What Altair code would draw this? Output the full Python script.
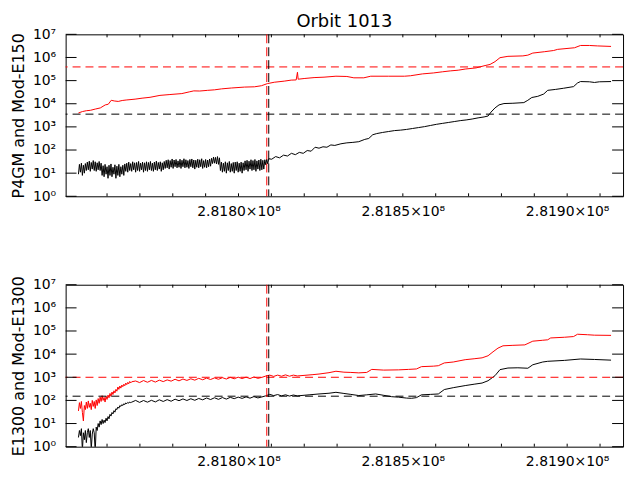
import altair as alt
import pandas as pd

# time origin (s); all times below are offsets from it
T0 = 281800000

# sample times of the densely sampled (noisy) early part
NOISE_T = [
    -48700, -48400, -48100, -47800, -47500, -47200, -46900, -46600, -46300, -46000,
    -45700, -45400, -45100, -44800, -44500, -44200, -43900, -43600, -43300, -43000,
    -42700, -42400, -42100, -41800, -41500, -41200, -40900, -40600, -40300, -40000,
    -39700, -39400, -39100, -38800, -38500, -38200, -37900, -37600, -37300, -37000,
    -36700, -36400, -36100, -35800, -35500, -35200, -34900, -34600, -34300, -34000,
    -33700, -33400, -33100, -32800, -32500, -32200, -31900, -31600, -31300, -31000,
    -30700, -30400, -30100, -29800, -29500, -29200, -28900, -28600, -28300, -28000,
    -27700, -27400, -27100, -26800, -26500, -26200, -25900, -25600, -25300, -25000,
    -24700, -24400, -24100, -23800, -23500, -23200, -22900, -22600, -22300, -22000,
    -21700, -21400, -21100, -20800, -20500, -20200, -19900, -19600, -19300, -19000,
    -18700, -18400, -18100, -17800, -17500, -17200, -16900, -16600, -16300, -16000,
    -15700, -15400, -15100, -14800, -14500, -14200, -13900, -13600, -13300, -13000,
    -12700, -12400, -12100, -11800, -11500, -11200, -10900, -10600, -10300, -10000,
    -9700, -9400, -9100, -8800, -8500, -8200, -7900, -7600, -7300, -7000,
    -6700, -6400, -6100, -5800, -5500, -5200, -4900, -4600, -4300, -4000,
    -3700, -3400, -3100, -2800, -2500, -2200, -1900, -1600, -1300, -1000,
    -700, -400, -100, 200, 500, 800, 1100, 1400, 1700, 2000,
    2300, 2600, 2900, 3200, 3500, 3800, 4100, 4400, 4700, 5000,
    5300, 5600, 5900, 6200, 6500, 6800, 7100, 7400, 7700, 8000,
    8300, 8600, 8900, 9200,
]
MOD_T = [
    -31300, -30100, -28900, -27700, -26500, -25300, -24100, -22900, -21700, -20500,
    -19300, -18100, -16900, -15700, -14500, -13300, -12100, -10900, -9700, -8500,
    -7300, -6100, -4900, -3700, -2500, -1300, -100, 1100, 2300, 3500,
    4700, 5900, 7100, 8300, 9500, 10700, 11900, 13100, 14300, 15500,
    16700, 17900,
]

# ---- top panel: P4GM (black) and Mod-E150 (red)
TOP_BLACK_V1 = [
    9, 24, 11, 27, 8, 22, 10, 26, 13, 30,
    14, 33, 12, 29, 15, 35, 13, 31, 12, 28,
    14, 32, 13, 27, 8, 21, 7, 24, 9, 19,
    6, 22, 8, 25, 7, 18, 9, 23, 6, 20,
    8, 24, 7, 19, 9, 22, 8, 25, 12, 27,
    11, 30, 13, 26, 12, 31, 14, 28, 11, 29,
    13, 32, 12, 27, 14, 30, 11, 28, 13, 31,
    12, 29, 14, 32, 13, 27, 12, 30, 14, 33,
    13, 29, 15, 31, 12, 28, 14, 32, 16, 36,
    17, 38, 15, 35, 18, 41, 16, 37, 19, 39,
    17, 34, 18, 40, 16, 36, 19, 42, 17, 38,
    18, 35, 16, 39, 19, 41, 17, 37, 15, 36,
    18, 40, 17, 38, 19, 42, 16, 35, 18, 39,
    17, 37, 19, 41, 20, 44, 26, 50, 27, 48,
    25, 52, 24, 46, 13, 30, 11, 27, 12, 31,
    10, 28, 13, 32, 11, 26, 12, 29, 10, 30,
    13, 31, 11, 27, 12, 30, 10, 28, 13, 34,
    14, 36, 12, 33, 15, 38, 13, 35, 14, 39,
    12, 34, 15, 37, 13, 40, 14, 36, 15, 38,
    23, 40, 25, 42,
]
TOP_BLACK_T2 = [10100, 11300, 12500, 13700, 14900, 16100, 17300, 18500, 19700,
                20900, 22100, 23300, 24500, 25700, 26900, 28100, 29300]
TOP_BLACK_V2 = [40, 52, 46, 60, 55, 72, 63, 79, 72, 95, 89, 132, 120, 138, 132, 166, 158]
TOP_BLACK_T3 = [31160, 32970, 34790, 36600, 38420, 39630, 40840, 42050, 43860, 45680,
                47490, 49310, 51120, 52940, 54750, 56570, 58380, 60200, 62010, 63830,
                65640, 67460, 69270, 71090, 72900, 74720, 75930, 76840, 78050, 79260,
                80770, 83490, 86820, 88030, 89240, 91050, 92870, 94080, 96500, 98920,
                101940, 103150, 104060, 106780, 108300, 109810, 113350]
TOP_BLACK_V3 = [186, 204, 214, 229, 288, 316, 457, 513, 575, 631,
                692, 724, 776, 851, 933, 1023, 1148, 1288, 1413, 1549,
                1698, 1862, 1995, 2188, 2455, 2692, 2951, 4365, 6607, 8913,
                10200, 10500, 11200, 14100, 18600, 20900, 26300, 38000, 41700, 46800,
                55000, 79000, 91000, 89000, 83000, 89000, 91000]

TOP_RED_T = [-48700, -47490, -46280, -45070, -43560, -42050, -40540, -39630, -38720, -37810,
             -36600, -35390, -34180, -31460, -29340, -26920, -23900, -20870, -17240, -14820,
             -13610, -11800, -9380, -7260, -5140, -2120, 1820, 4840, 6960, 8770,
             10890, 13920, 16030, 17550, 17940, 18150, 19970, 22990, 26020, 29650,
             32970, 35090, 38120, 40230, 45680, 50520, 52330, 55960, 59290, 62010,
             64430, 66850, 68970, 72300, 75020, 76530, 78050, 79560, 81980, 86520,
             88030, 89540, 93170, 95890, 97100, 102250, 104060, 106780, 109200, 113350]
TOP_RED_V = [4000, 4600, 5000, 5200, 5900, 6600, 8900, 9500, 14100, 13200,
             12600, 13800, 14500, 15800, 17400, 19000, 23000, 25000, 27500, 33000,
             36000, 35500, 38000, 40000, 44000, 48000, 52500, 54000, 60000, 74000,
             85000, 95000, 105000, 107000, 230000, 115000, 123000, 135000, 141000, 155000,
             151000, 132000, 132000, 155000, 155000, 155000, 162000, 195000, 214000, 240000,
             263000, 282000, 316000, 355000, 447000, 500000, 660000, 980000, 1120000, 1170000,
             1260000, 1550000, 1780000, 2000000, 2240000, 2630000, 3300000, 3300000, 3160000, 3000000]

# ---- bottom panel: E1300 (black) and Mod-E1300 (red)
BOT_RED_V1 = [35, 80, 45, 90, 30, 13, 60, 40, 85, 45,
              95, 50, 75, 40, 100, 55, 90, 45, 105, 60,
              120, 75, 140, 90, 160, 100, 135, 85, 150, 110,
              170, 130, 200, 150, 230, 180, 260, 210, 300, 250,
              380, 300, 420, 340, 460, 390, 500, 430, 560, 480,
              600, 520, 660, 570, 640]
BOT_RED_V2 = [690, 590, 720, 610, 730, 620, 750, 650, 770, 680,
              820, 700, 840, 730, 860, 750, 900, 780, 920, 800,
              940, 820, 960, 840, 990, 860, 1010, 880, 1010, 880,
              1030, 900, 990, 1130, 1240, 1090, 1240, 1110, 1270, 1110,
              1240, 1140]
BOT_RED_T3 = [22390, 24500, 27530, 29650, 32070, 34180, 36600, 39020, 40540, 44170,
              48700, 51730, 54150, 55660, 59290, 60800, 62620, 65340, 68970, 71690,
              74110, 75930, 77440, 78950, 80470, 83490, 87120, 89540, 92570, 94080,
              94990, 99220, 101940, 103150, 106180, 108300, 113350]
BOT_RED_V3 = [1290, 1380, 1580, 1820, 1660, 1620, 1550, 1620, 2190, 2040,
              2090, 2190, 2290, 2880, 3020, 3160, 4170, 4570, 5750, 6310,
              6920, 8510, 12600, 18200, 22900, 24000, 25100, 36300, 39800, 41700,
              50100, 53700, 57500, 72400, 69000, 66000, 64600]

BOT_BLACK_V1 = [2.5, 5, 3, 6, 0.7, 4, 2, 5, 1.5, 4,
                6, 2.5, 5, 0.8, 3.5, 6, 4, 0.6, 7, 5,
                10, 7, 13, 9, 15, 10, 14, 11, 17, 13,
                20, 16, 25, 21, 30, 26, 36, 31, 44, 40,
                52, 46, 60, 55, 66, 60, 72, 66, 78, 72,
                82, 76, 86, 80, 84]
BOT_BLACK_V2 = [100, 82, 99, 84, 101, 86, 106, 90, 108, 92,
                113, 97, 116, 99, 118, 101, 121, 106, 127, 109,
                130, 111, 133, 114, 136, 119, 139, 122, 142, 125,
                146, 128, 141, 158, 183, 161, 179, 157, 175, 154,
                171, 157]
BOT_BLACK_T3 = [21480, 24500, 27530, 29650, 32070, 34180, 36600, 39020, 41750, 44170,
                46590, 48700, 51120, 52640, 54150, 55660, 58380, 60800, 62620, 65340,
                68970, 71690, 74110, 75930, 78050, 79560, 81980, 85000, 88030, 89540,
                92570, 94080, 99220, 104060, 108300, 113350]
BOT_BLACK_V3 = [174, 190, 204, 224, 200, 182, 162, 174, 190, 166,
                145, 138, 126, 123, 132, 174, 182, 190, 295, 355,
                437, 501, 562, 708, 1175, 2138, 2512, 2570, 2455, 3467,
                4571, 4898, 5370, 6166, 5890, 5495]

# reference levels (dashed horizontal) and event times (dashed vertical)
TOP_LEVELS = [390000, 3550]
BOT_LEVELS = [1000, 152]
LEVEL_COLORS = ["red", "black"]
EVENT_T = [8600, 9200]
EVENT_COLORS = ["red", "black"]

X_DOMAIN = [281747400, 281917000]
X_TICKS = [281760000, 281770000, 281780000, 281790000, 281800000, 281810000,
           281820000, 281830000, 281840000, 281850000, 281860000, 281870000,
           281880000, 281890000, 281900000, 281910000]
Y_TICKS = [1, 10, 100, 1000, 10000, 100000, 1000000, 10000000]
Y_TICK_LABELS = ["10⁰", "10¹", "10²", "10³", "10⁴", "10⁵", "10⁶", "10⁷"]

FONT = "DejaVu Sans"
W, H = 561, 163
YTICK_LEN, XTICK_LEN = 11, 3


def series(times, values, color):
    return pd.DataFrame({"t": [T0 + t for t in times], "v": values, "color": color})


top_df = pd.concat([
    series(NOISE_T + TOP_BLACK_T2 + TOP_BLACK_T3,
           TOP_BLACK_V1 + TOP_BLACK_V2 + TOP_BLACK_V3, "black"),
    series(TOP_RED_T, TOP_RED_V, "red"),
], ignore_index=True)

bot_df = pd.concat([
    series(NOISE_T[:55] + MOD_T + BOT_BLACK_T3,
           BOT_BLACK_V1 + BOT_BLACK_V2 + BOT_BLACK_V3, "black"),
    series(NOISE_T[:55] + MOD_T + BOT_RED_T3,
           BOT_RED_V1 + BOT_RED_V2 + BOT_RED_V3, "red"),
], ignore_index=True)

events_df = pd.DataFrame({"t": [T0 + t for t in EVENT_T], "color": EVENT_COLORS})
ytick_df = pd.DataFrame({"v": Y_TICKS})
xtick_df = pd.DataFrame({"t": X_TICKS})

y_label_expr = ""
for val, lab in zip(Y_TICKS[:-1], Y_TICK_LABELS[:-1]):
    y_label_expr += f"datum.value < {val * 3} ? '{lab}' : "
y_label_expr += f"'{Y_TICK_LABELS[-1]}'"

x_label_expr = ("datum.value % 50000 == 0 ? "
                "format(datum.value / 100000000, '.4f') + '×10⁸' : ''")


def panel(df, levels, ytitle, title=None):
    xs = alt.Scale(domain=X_DOMAIN, nice=False, zero=False)
    ys = alt.Scale(type="log", domain=[1, 10000000], nice=False)
    x_axis = alt.Axis(orient="bottom", values=X_TICKS, labelExpr=x_label_expr,
                      ticks=False, domain=False, grid=False, title=None,
                      labelPadding=8, labelFlush=False, labelOverlap=False)
    y_axis = alt.Axis(orient="left", values=Y_TICKS, labelExpr=y_label_expr,
                      ticks=False, domain=False, grid=False, title=ytitle,
                      labelPadding=10, titlePadding=6, labelFlush=False,
                      labelOverlap=False)
    X = alt.X("t:Q", scale=xs, axis=x_axis)
    Y = alt.Y("v:Q", scale=ys, axis=y_axis)

    lines = alt.Chart(df).mark_line(strokeWidth=1, clip=True).encode(
        x=X, y=Y, color=alt.Color("color:N", scale=None), detail="color:N")
    lev_df = pd.DataFrame({"v": levels, "color": LEVEL_COLORS})
    hr = alt.Chart(lev_df).mark_rule(strokeDash=[8, 5], strokeWidth=1).encode(
        y=Y, color=alt.Color("color:N", scale=None))
    vr = alt.Chart(events_df).mark_rule(strokeDash=[9, 4], strokeWidth=1).encode(
        x=X, color=alt.Color("color:N", scale=None))
    # inward tick marks on all four sides (IDL style)
    yt_left = alt.Chart(ytick_df).mark_rule(color="black", strokeWidth=1).encode(
        y=Y, x=alt.value(0), x2=alt.value(YTICK_LEN))
    yt_right = alt.Chart(ytick_df).mark_rule(color="black", strokeWidth=1).encode(
        y=Y, x=alt.value(W - YTICK_LEN), x2=alt.value(W))
    xt_bottom = alt.Chart(xtick_df).mark_rule(color="black", strokeWidth=1).encode(
        x=X, y=alt.value(H - XTICK_LEN), y2=alt.value(H))
    xt_top = alt.Chart(xtick_df).mark_rule(color="black", strokeWidth=1).encode(
        x=X, y=alt.value(0), y2=alt.value(XTICK_LEN))
    ch = alt.layer(lines, hr, vr, yt_left, yt_right, xt_bottom, xt_top)
    props = dict(width=W, height=H)
    if title:
        props["title"] = alt.TitleParams(title, font=FONT, fontSize=18, fontWeight="normal",
                                         color="black", offset=-4, anchor="middle",
                                         frame="group")
    return ch.properties(**props)


top = panel(top_df, TOP_LEVELS, "P4GM and Mod-E150", "Orbit 1013")
bottom = panel(bot_df, BOT_LEVELS, "E1300 and Mod-E1300")

chart = alt.vconcat(top, bottom, spacing=89, bounds="flush").properties(
    padding={"left": 2, "top": 3, "right": 5, "bottom": 5},
    background="white",
).configure_view(stroke="black", strokeWidth=1).configure_axis(
    labelFont=FONT, labelFontSize=14, labelColor="black",
    titleFont=FONT, titleFontSize=16, titleFontWeight="normal",
    titleColor="black",
)

chart.save("out.html", embed_options={"renderer": "svg", "actions": False})
